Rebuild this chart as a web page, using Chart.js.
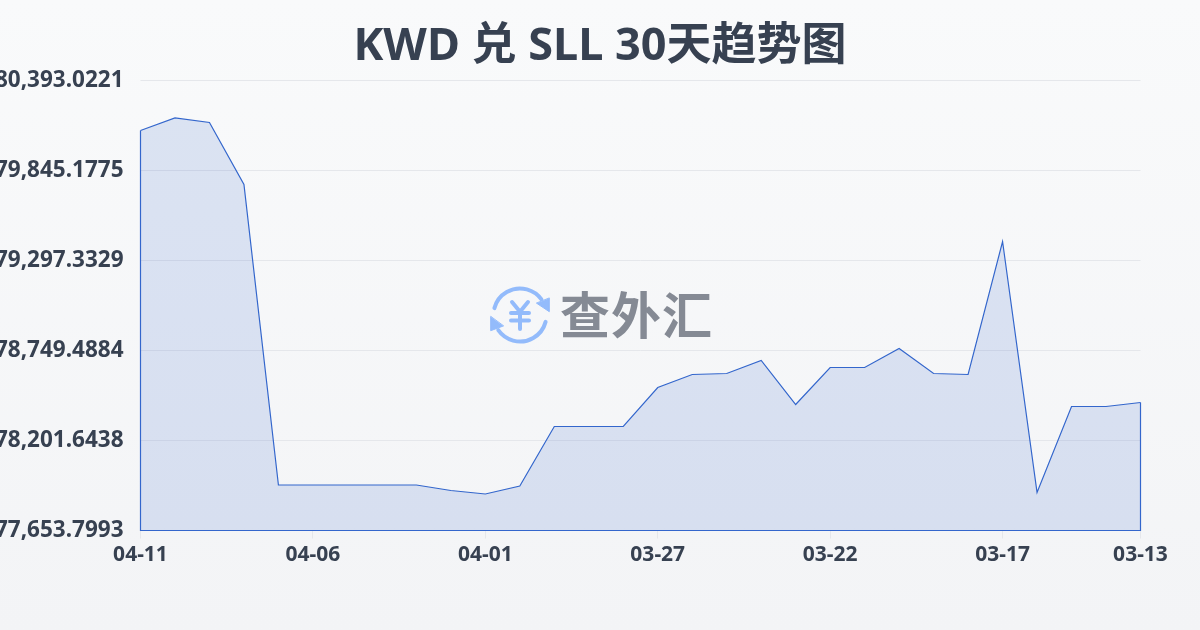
<!DOCTYPE html>
<html>
<head>
<meta charset="utf-8">
<script src="https://cdn.jsdelivr.net/npm/chart.js@4"></script>
<style>
  html, body { margin: 0; padding: 0; width: 1200px; height: 630px; overflow: hidden; background: linear-gradient(180deg, #f9fafb 0%, #f3f4f6 100%); }
  canvas { display: block; }
</style>
</head>
<body>
<canvas id="grafico" width="1200" height="630"></canvas>
<script>
const titulo = 'KWD 兑 SLL 30天趋势图';
const marca = '查外汇';

const fechas = [
  '04-11', '04-10', '04-09', '04-08', '04-07', '04-06', '04-05', '04-04', '04-03', '04-02',
  '04-01', '03-31', '03-30', '03-29', '03-28', '03-27', '03-26', '03-25', '03-24', '03-23',
  '03-22', '03-21', '03-20', '03-19', '03-18', '03-17', '03-16', '03-15', '03-14', '03-13'
];
const valores = [
  80088.8, 80164.9, 80137.5, 79760.0, 77930.8, 77930.8, 77930.8, 77930.8, 77930.8, 77897.3,
  77876.0, 77924.7, 78286.9, 78286.9, 78286.9, 78524.3, 78603.4, 78609.5, 78688.7, 78420.8,
  78646.1, 78646.1, 78761.7, 78609.5, 78603.4, 79413.1, 77885.1, 78408.6, 78408.6, 78433.0
];
const ticksX = ['04-11', '04-06', '04-01', '03-27', '03-22', '03-17', '03-13'];
const ticksY = [77653.7993, 78201.6438, 78749.4884, 79297.3329, 79845.1775, 80393.0221];

const AZUL = '#3366cc';
const TEXTO = '#374151';
const REJILLA = '#e5e7eb';
const FUENTE = '"Noto Sans", "Noto Sans CJK SC", sans-serif';

// Cierra el área con la misma línea azul (lados y base)
const bordeArea = {
  id: 'bordeArea',
  afterDatasetsDraw(chart) {
    const pts = chart.getDatasetMeta(0).data;
    const primero = pts[0];
    const ultimo = pts[pts.length - 1];
    const base = chart.chartArea.bottom;
    const ctx = chart.ctx;
    ctx.save();
    ctx.strokeStyle = AZUL;
    ctx.lineWidth = 1.2;
    ctx.beginPath();
    ctx.moveTo(primero.x, primero.y);
    ctx.lineTo(primero.x, base);
    ctx.lineTo(ultimo.x, base);
    ctx.lineTo(ultimo.x, ultimo.y);
    ctx.stroke();
    ctx.restore();
  }
};

// Marca de agua: icono y texto
const marcaAgua = {
  id: 'marcaAgua',
  afterDatasetsDraw(chart) {
    const ctx = chart.ctx;
    const g = Math.PI / 180;
    ctx.save();
    ctx.strokeStyle = '#93bbfb';
    ctx.fillStyle = '#93bbfb';
    ctx.lineCap = 'round';
    ctx.lineJoin = 'round';
    ctx.lineWidth = 4;
    ctx.beginPath();
    ctx.arc(520, 315, 26.5, 195 * g, 324 * g);
    ctx.stroke();
    ctx.beginPath();
    ctx.arc(520, 315, 26.5, 15 * g, 145 * g);
    ctx.stroke();
    ctx.lineWidth = 1;
    ctx.beginPath();
    ctx.moveTo(549.3, 298.3);
    ctx.lineTo(549.3, 311.7);
    ctx.lineTo(536.7, 303.3);
    ctx.closePath();
    ctx.fill();
    ctx.stroke();
    ctx.beginPath();
    ctx.moveTo(490.7, 316.7);
    ctx.lineTo(490.7, 330.7);
    ctx.lineTo(503.3, 326);
    ctx.closePath();
    ctx.fill();
    ctx.stroke();
    // Signo del yen
    ctx.lineWidth = 4;
    ctx.beginPath();
    ctx.moveTo(512, 302);
    ctx.lineTo(520, 311.7);
    ctx.lineTo(528, 302);
    ctx.moveTo(511, 313);
    ctx.lineTo(529, 313);
    ctx.moveTo(511, 320.5);
    ctx.lineTo(529, 320.5);
    ctx.moveTo(520, 311.7);
    ctx.lineTo(520, 329);
    ctx.stroke();
    ctx.fillStyle = '#858a94';
    ctx.font = '700 50px "Noto Sans CJK SC"';
    ctx.letterSpacing = '1px';
    ctx.textAlign = 'left';
    ctx.textBaseline = 'middle';
    ctx.fillText(marca, 560, 315);
    ctx.restore();
  }
};

new Chart(document.getElementById('grafico'), {
  type: 'line',
  data: {
    labels: fechas,
    datasets: [{
      data: valores,
      borderColor: AZUL,
      borderWidth: 1.2,
      backgroundColor: 'rgba(51, 102, 204, 0.15)',
      fill: true,
      tension: 0,
      pointRadius: 0
    }]
  },
  options: {
    responsive: false,
    animation: false,
    layout: { padding: 0 },
    plugins: {
      legend: { display: false },
      tooltip: { enabled: false },
      title: {
        display: true,
        text: titulo,
        color: TEXTO,
        font: { family: FUENTE, size: 45, weight: 'bold', lineHeight: 1.2 },
        padding: { top: 20, bottom: 6.5 }
      }
    },
    scales: {
      x: {
        type: 'category',
        offset: false,
        afterBuildTicks: s => { s.ticks = s.ticks.filter(t => ticksX.includes(fechas[t.value])); },
        afterFit: s => { s.height = 99.5; },
        border: { display: false },
        grid: { drawOnChartArea: false, color: REJILLA, tickColor: REJILLA, tickLength: 8 },
        ticks: {
          autoSkip: false,
          maxRotation: 0,
          padding: 4,
          color: TEXTO,
          font: { family: FUENTE, size: 21, weight: 'bold' }
        }
      },
      y: {
        min: ticksY[0],
        max: ticksY[ticksY.length - 1],
        afterBuildTicks: s => { s.ticks = ticksY.map(v => ({ value: v })); },
        afterFit: s => { s.width = 140.5; },
        border: { display: false },
        grid: { color: REJILLA, tickLength: 0 },
        ticks: {
          padding: 17,
          color: TEXTO,
          font: { family: FUENTE, size: 22.5, weight: 'bold' },
          callback: v => v.toLocaleString('en-US', { minimumFractionDigits: 4, maximumFractionDigits: 4 })
        }
      },
      // Eje vacío: reserva el margen derecho sin descentrar el título
      margen: {
        position: 'right',
        afterFit: s => { s.width = 59.5; },
        border: { display: false },
        grid: { display: false },
        ticks: { display: false }
      }
    }
  },
  plugins: [marcaAgua, bordeArea]
});
</script>
</body>
</html>
